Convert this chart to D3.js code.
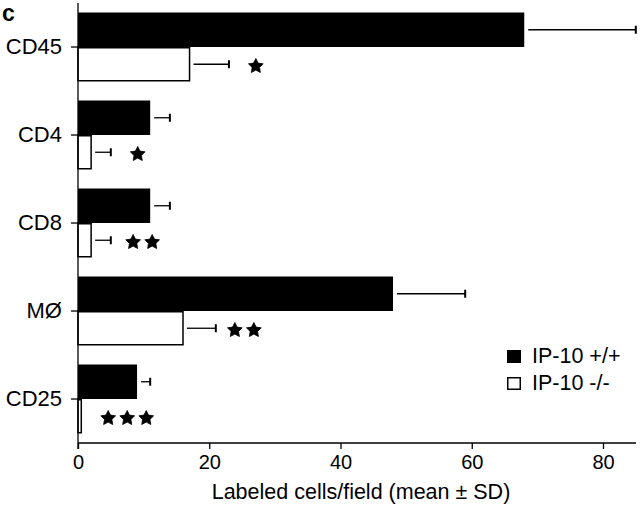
<!DOCTYPE html>
<html>
<head>
<meta charset="utf-8">
<script src="https://cdn.jsdelivr.net/npm/d3@7"></script>
<style>
  html, body { margin: 0; padding: 0; background: #fff; }
  svg { display: block; font-family: "Liberation Sans", Arial, Helvetica, sans-serif; }
</style>
</head>
<body>
<svg id="chart" width="640" height="509"></svg>
<script>
// ---- data ----
const categories = ["CD45", "CD4", "CD8", "MØ", "CD25"];
const seriesNames = ["IP-10 +/+", "IP-10 -/-"];
const wildMean = [68, 11, 11, 48, 9];
const wildSD   = [17, 3, 3, 11, 2];
const koMean   = [17, 2, 2, 16, 0.5];
const koSD     = [6, 3, 3, 5, 0];
const starCount = [1, 1, 2, 2, 3];
const starStart = [27.1, 9.1, 8.4, 23.9, 4.6];   // x position (data units) of first asterisk
const starStep = 2.9;                              // spacing between asterisks (data units)
const xTicks = [0, 20, 40, 60, 80];

// ---- layout ----
const svg = d3.select("#chart");
const x0 = 78, xEnd = 636, yTop = 3, yAxis = 443;
const x = d3.scaleLinear().domain([0, 80]).range([x0, 603]);
const y = d3.scaleBand().domain(categories).range([yTop, yAxis])
  .paddingInner(0.216).paddingOuter(0.108);
const sub = d3.scaleBand().domain(seriesNames).range([0, y.bandwidth()]);

const rows = categories.map((c, i) => ({c, i}));
const series = [
  {name: seriesNames[0], mean: wildMean, sd: wildSD, fill: "#000"},
  {name: seriesNames[1], mean: koMean, sd: koSD, fill: "#fff"}
];

series.forEach(s => {
  const g = svg.append("g");
  g.selectAll("rect").data(rows).enter().append("rect")
    .attr("x", x(0))
    .attr("y", d => y(d.c) + sub(s.name) + (s.fill === "#fff" ? 0.75 : 0))
    .attr("width", d => Math.max(0, x(s.mean[d.i]) - x(0)))
    .attr("height", sub.bandwidth() - (s.fill === "#fff" ? 1.5 : 0))
    .attr("fill", s.fill)
    .attr("stroke", "#000")
    .attr("stroke-width", s.fill === "#fff" ? 1.5 : 0);

  const eb = g.selectAll("g.eb").data(rows.filter(d => s.sd[d.i] > 0)).enter().append("g");
  eb.append("line")
    .attr("x1", d => x(s.mean[d.i]) + 4)
    .attr("x2", d => x(s.mean[d.i] + s.sd[d.i]))
    .attr("y1", d => y(d.c) + sub(s.name) + sub.bandwidth() / 2)
    .attr("y2", d => y(d.c) + sub(s.name) + sub.bandwidth() / 2)
    .attr("stroke", "#000").attr("stroke-width", 1.3);
  eb.append("line")
    .attr("x1", d => x(s.mean[d.i] + s.sd[d.i]))
    .attr("x2", d => x(s.mean[d.i] + s.sd[d.i]))
    .attr("y1", d => y(d.c) + sub(s.name) + sub.bandwidth() / 2 - 4)
    .attr("y2", d => y(d.c) + sub(s.name) + sub.bandwidth() / 2 + 4)
    .attr("stroke", "#000").attr("stroke-width", 2);
});

// asterisks: chunky five-pointed stars
const fatStar = {
  draw(ctx, size) {
    const R = Math.sqrt(size) / 2, r = R * 0.5;
    for (let k = 0; k < 10; k++) {
      const a = -Math.PI / 2 + k * Math.PI / 5;
      const rad = k % 2 === 0 ? R : r;
      const px = rad * Math.cos(a), py = rad * Math.sin(a);
      if (k === 0) ctx.moveTo(px, py); else ctx.lineTo(px, py);
    }
    ctx.closePath();
  }
};
const star = d3.symbol().type(fatStar).size(240);
const stars = [];
categories.forEach((c, i) => {
  for (let k = 0; k < starCount[i]; k++) stars.push({c, v: starStart[i] + k * starStep});
});
svg.append("g").selectAll("path").data(stars).enter().append("path")
  .attr("d", star)
  .attr("transform", d => `translate(${x(d.v)},${y(d.c) + sub(seriesNames[1]) + sub.bandwidth() / 2 + 2})`)
  .attr("fill", "#000").attr("stroke", "#000").attr("stroke-width", 0.8).attr("stroke-linejoin", "round");

// x axis
const xAxis = d3.axisBottom(x).tickValues(xTicks).tickSize(6).tickPadding(6).tickSizeOuter(0);
const gx = svg.append("g").attr("transform", `translate(0,${yAxis})`).call(xAxis);
gx.select(".domain").remove();
gx.append("line").attr("x1", x0).attr("x2", xEnd).attr("stroke", "#000").attr("stroke-width", 1.3);
gx.selectAll(".tick line").attr("stroke-width", 1.3);
gx.selectAll("text").attr("font-size", 20).attr("fill", "#000")
  .attr("font-family", "'Liberation Sans', Arial, sans-serif");

// y axis
const yAx = d3.axisLeft(y).tickSize(7).tickPadding(9);
const gy = svg.append("g").attr("transform", `translate(${x0},0)`).call(yAx);
gy.select(".domain").remove();
gy.append("line").attr("y1", yTop).attr("y2", yAxis + 6).attr("stroke", "#000").attr("stroke-width", 1.3);
gy.selectAll(".tick line").attr("stroke-width", 1.3);
gy.selectAll("text").attr("font-size", 22).attr("fill", "#000")
  .attr("font-family", "'Liberation Sans', Arial, sans-serif");

// axis title
svg.append("text").attr("x", 361).attr("y", 499).attr("text-anchor", "middle")
  .attr("font-size", 21.5).text("Labeled cells/field (mean ± SD)");

// panel label
svg.append("text").attr("x", 2).attr("y", 21).attr("font-size", 23).attr("font-weight", "bold").text("c");

// legend
const leg = svg.append("g").attr("transform", "translate(507,350)");
seriesNames.forEach((n, i) => {
  const gi = leg.append("g").attr("transform", `translate(0,${i * 27})`);
  gi.append("rect").attr("x", 0.75).attr("y", 0.75).attr("width", 12.5).attr("height", 11.5)
    .attr("fill", series[i].fill).attr("stroke", "#000").attr("stroke-width", 1.5);
  gi.append("text").attr("x", 25).attr("y", 12.5).attr("font-size", 21.5).text(n);
});
</script>
</body>
</html>
